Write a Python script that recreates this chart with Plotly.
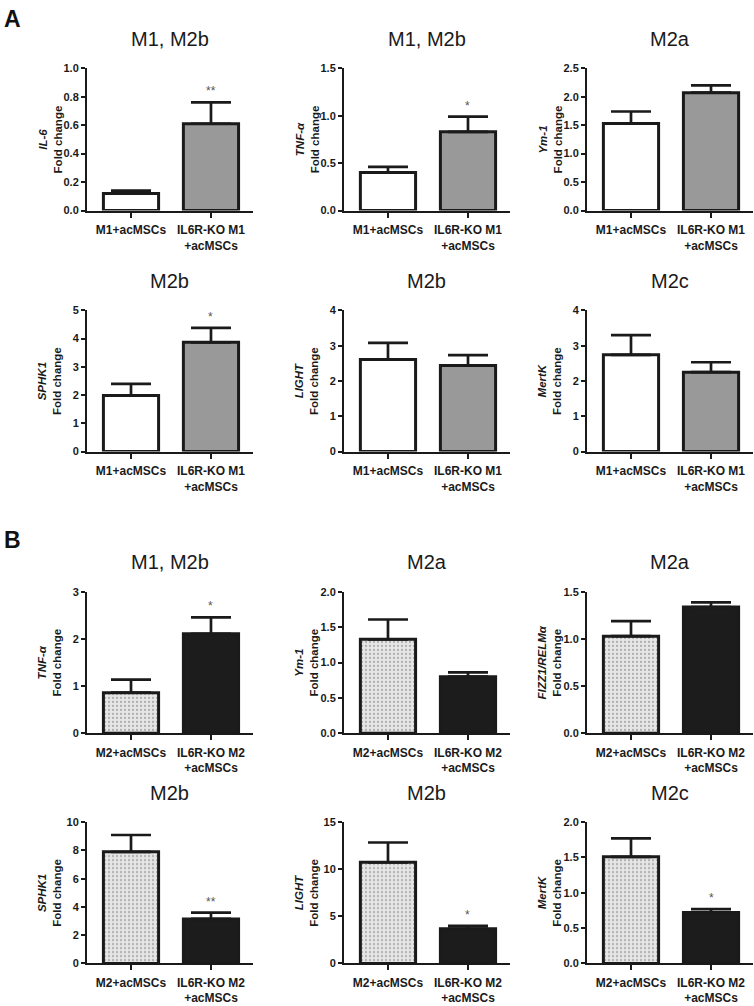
import plotly.graph_objects as go

# panel data (A: rows 1-2, B: rows 3-4)
titles = ["M1, M2b", "M1, M2b", "M2a", "M2b", "M2b", "M2c",
          "M1, M2b", "M2a", "M2a", "M2b", "M2b", "M2c"]
genes = ["IL-6", "TNF-α", "Ym-1", "SPHK1", "LIGHT", "MertK",
         "TNF-α", "Ym-1", "FIZZ1/RELMα", "SPHK1", "LIGHT", "MertK"]
ymax = [1.0, 1.5, 2.5, 5, 4, 4, 3, 2.0, 1.5, 10, 15, 2.0]
dtick = [0.2, 0.5, 0.5, 1, 1, 1, 1, 0.5, 0.5, 2, 5, 0.5]
tickfmt = [".1f", ".1f", ".1f", "d", "d", "d", "d", ".1f", ".1f", "d", "d", ".1f"]

ctrl_mean = [0.12, 0.40, 1.53, 1.99, 2.61, 2.74, 0.86, 1.33, 1.03, 7.90, 10.74, 1.51]
ctrl_sem = [0.02, 0.06, 0.21, 0.41, 0.47, 0.56, 0.28, 0.28, 0.16, 1.19, 2.10, 0.26]
ko_mean = [0.61, 0.83, 2.07, 3.87, 2.44, 2.25, 2.11, 0.80, 1.34, 3.15, 3.67, 0.72]
ko_sem = [0.15, 0.16, 0.13, 0.51, 0.29, 0.28, 0.35, 0.06, 0.05, 0.44, 0.32, 0.05]
ko_stars = ["**", "*", "", "*", "", "", "*", "", "", "**", "*", "*"]

groups_A = ["M1+acMSCs", "IL6R-KO M1<br>+acMSCs"]
groups_B = ["M2+acMSCs", "IL6R-KO M2<br>+acMSCs"]

W, H = 754, 1006
FONT = "Liberation Sans, Arial, sans-serif"
row_dom = [(0.7942, 0.9374), (0.5517, 0.6938), (0.2684, 0.4105), (0.0368, 0.1789)]
col_dom = [(0.1154, 0.3355), (0.4562, 0.6764), (0.7785, 0.9987)]

fig = go.Figure()
annotations = []
layout = {}

for i in range(12):
    r, c = i // 3, i % 3
    n = "" if i == 0 else str(i + 1)
    partB = r >= 2
    cats = groups_B if partB else groups_A

    if partB:
        ctrl_marker = dict(color="#e6e6e6", line=dict(color="#1a1a1a", width=3),
                           pattern=dict(shape=".", bgcolor="#e6e6e6", fgcolor="#777777",
                                        size=4, solidity=0.25))
        ko_marker = dict(color="#1c1c1c", line=dict(color="#1a1a1a", width=3))
    else:
        ctrl_marker = dict(color="white", line=dict(color="#1a1a1a", width=3))
        ko_marker = dict(color="#999999", line=dict(color="#1a1a1a", width=3))

    for k, (m, s, mk) in enumerate([(ctrl_mean[i], ctrl_sem[i], ctrl_marker),
                                    (ko_mean[i], ko_sem[i], ko_marker)]):
        fig.add_trace(go.Bar(
            x=[cats[k]], y=[m], width=0.69, marker=mk, showlegend=False,
            xaxis="x" + n, yaxis="y" + n,
            error_y=dict(type="data", array=[s], arrayminus=[0], symmetric=False,
                         color="#1a1a1a", thickness=2.7, width=20),
        ))

    axfont = dict(family=FONT, size=11, color="#1a1a1a")
    layout["xaxis" + n] = dict(
        domain=col_dom[c], anchor="y" + n, type="category", categoryorder="array",
        categoryarray=cats, range=[-0.55, 1.525], showline=True, linecolor="#1a1a1a",
        linewidth=2, ticks="outside", ticklen=5, tickwidth=2, tickcolor="#1a1a1a",
        tickfont=dict(family=FONT, size=12, color="#1a1a1a", weight="bold"),
        ticklabelstandoff=2, showgrid=False, zeroline=False, fixedrange=True,
    )
    layout["yaxis" + n] = dict(
        domain=row_dom[r], anchor="x" + n, range=[0, ymax[i]], dtick=dtick[i],
        tick0=0, tickformat=tickfmt[i], showline=True, linecolor="#1a1a1a",
        linewidth=2, ticks="outside", ticklen=4, tickwidth=2, tickcolor="#1a1a1a",
        tickfont=dict(axfont, weight="bold"), showgrid=False, zeroline=False,
        fixedrange=True,
    )

    x0, x1 = col_dom[c]
    y0, y1 = row_dom[r]
    annotations.append(dict(
        text=titles[i], xref="paper", yref="paper", x=(x0 + x1) / 2, y=y1 + 30 / H,
        xanchor="center", yanchor="middle", showarrow=False,
        font=dict(family=FONT, size=20, color="#1a1a1a"),
    ))
    annotations.append(dict(
        text="<b><i>" + genes[i] + "</i><br>Fold change</b>", xref="paper", yref="paper",
        x=(x0 * W - 37) / W, y=(y0 + y1) / 2, textangle=-90, xanchor="center",
        yanchor="middle", showarrow=False,
        font=dict(family=FONT, size=11.5, color="#1a1a1a"),
    ))
    if ko_stars[i]:
        annotations.append(dict(
            text=ko_stars[i], xref="x" + n, yref="y" + n, x=cats[1],
            y=ko_mean[i] + ko_sem[i], yanchor="bottom", yshift=2, showarrow=False,
            font=dict(family=FONT, size=12, color="#555555"),
        ))

for lbl, py in [("A", 13), ("B", 540)]:
    annotations.append(dict(
        text="<b>" + lbl + "</b>", xref="paper", yref="paper", x=0.002, y=1 - py / H,
        xanchor="left", yanchor="middle", showarrow=False,
        font=dict(family=FONT, size=23, color="#111111"),
    ))

fig.update_layout(
    width=W, height=H, margin=dict(l=0, r=0, t=0, b=0),
    paper_bgcolor="white", plot_bgcolor="white", annotations=annotations,
    barmode="overlay", **layout,
)

# page body has a default 8px margin; drop it so the figure fills the window
fig.write_html("out.html", config={"displayModeBar": False},
               post_script="document.body.style.margin='0';")
